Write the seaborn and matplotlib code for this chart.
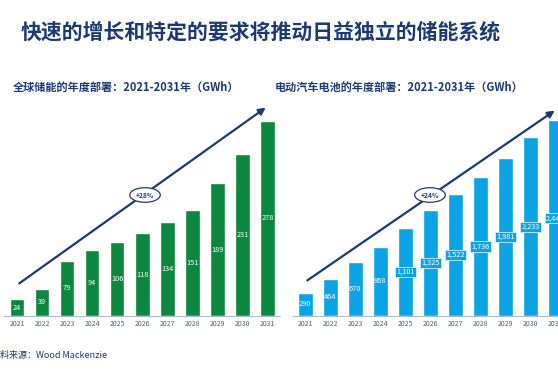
import matplotlib.pyplot as plt
import seaborn as sns
import pandas as pd

# data
years = ['2021', '2022', '2023', '2024', '2025', '2026', '2027', '2028', '2029', '2030', '2031']
storage_gwh = [24, 39, 79, 94, 106, 118, 134, 151, 189, 231, 278]
ev_gwh = [290, 464, 670, 868, 1101, 1325, 1522, 1736, 1981, 2233, 2446]

title = '快速的增长和特定的要求将推动日益独立的储能系统'
sub_left = '全球储能的年度部署：2021-2031年（GWh）'
sub_right = '电动汽车电池的年度部署：2021-2031年（GWh）'
source = '资料来源：Wood Mackenzie'

GREEN = '#0b873f'
BLUE = '#0aa3e3'
NAVY = '#1c3a72'
TICK = '#4f5f7c'

sns.set_style('white')
plt.rcParams['font.family'] = ['Noto Sans CJK SC', 'DejaVu Sans']

fig = plt.figure(figsize=(5.58, 3.73), dpi=100)
W, H = 558, 373


def px_axes(left, right, bottom, top):
    return fig.add_axes([left / W, (H - bottom) / H, (right - left) / W, (bottom - top) / H])


ax1 = px_axes(4.5, 280, 316, 96)
ax2 = px_axes(292.8, 567.8, 316, 96)


def draw(ax, vals, color, ymax, boxed):
    df = pd.DataFrame({'year': years, 'val': vals})
    sns.barplot(data=df, x='year', y='val', color=color, saturation=1, width=0.58, ax=ax)
    ax.set_ylim(0, ymax)
    ax.set_xlim(-0.5, len(years) - 0.5)
    ax.set_xlabel('')
    ax.set_ylabel('')
    ax.set_yticks([])
    for s in ['top', 'right', 'left']:
        ax.spines[s].set_visible(False)
    ax.spines['bottom'].set_color('#a9bbd3')
    ax.spines['bottom'].set_linewidth(0.8)
    ax.tick_params(axis='x', length=0, pad=3, labelsize=5, labelcolor=TICK)
    for i, v in enumerate(vals):
        txt = f'{v:,}'
        kw = {}
        if boxed and v >= 1000:
            kw['bbox'] = dict(boxstyle='square,pad=0.15', fc=color, ec='#cdeefb', lw=0.6)
        ax.text(i, v / 2, txt, ha='center', va='center', color='white', fontsize=5.3, **kw)


draw(ax1, storage_gwh, GREEN, 313.6, False)
draw(ax2, ev_gwh, BLUE, 2750, True)


# trend arrows
def trend(start, end, label_pos, label):
    fig.add_artist(plt.matplotlib.patches.FancyArrowPatch(
        (start[0] / W, (H - start[1]) / H), (end[0] / W, (H - end[1]) / H),
        transform=fig.transFigure, arrowstyle='-|>', mutation_scale=10,
        color=NAVY, lw=1.6))
    fig.text(label_pos[0] / W, (H - label_pos[1]) / H, label, ha='center', va='center',
             fontsize=4.8, fontweight='bold', color=NAVY,
             bbox=dict(boxstyle='ellipse,pad=0.25', fc='white', ec=NAVY, lw=0.9))


trend((17, 285), (268, 106), (145, 195), '+28%')
trend((305, 282), (557, 109), (430, 195), '+24%')

fig.text(261 / W, (H - 32) / H, title, ha='center', va='center', fontsize=15,
         fontweight='bold', color=NAVY)
fig.text(13 / W, (H - 87) / H, sub_left, ha='left', va='center', fontsize=8,
         fontweight='bold', color=NAVY)
fig.text(275 / W, (H - 87) / H, sub_right, ha='left', va='center', fontsize=8,
         fontweight='bold', color=NAVY)
fig.text(-9 / W, (H - 355) / H, source, ha='left', va='center', fontsize=6.5,
         color=NAVY)

fig.savefig('out.png', dpi=100)
